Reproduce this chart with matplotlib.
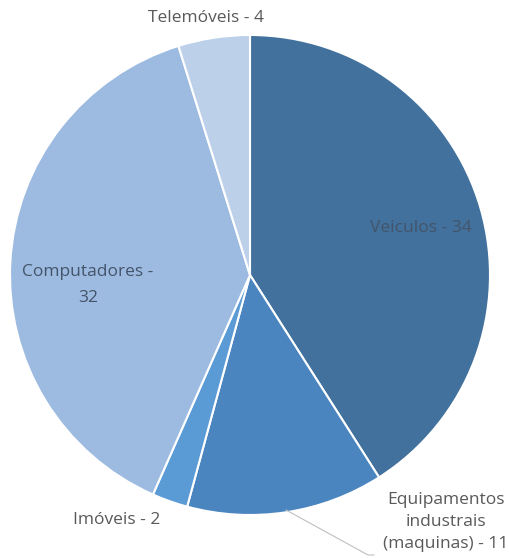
import matplotlib
matplotlib.use("Agg")
import matplotlib.pyplot as plt

labels = ["Veiculos", "Equipamentos\nindustrais\n(maquinas)", "Imóveis", "Computadores", "Telemóveis"]
values = [34, 11, 2, 32, 4]
colors = ["#41719c", "#4a85bf", "#5b9bd5", "#9dbbe1", "#bdd0ea"]

W, H = 510, 558
fig = plt.figure(figsize=(W / 100, H / 100), dpi=100)
ax = fig.add_axes([0, 0, 1, 1])

cx, cy, r = 250, H - 275, 240
ax.pie(values, colors=colors, startangle=90, counterclock=False,
       center=(cx, cy), radius=r, frame=True,
       wedgeprops=dict(edgecolor="white", linewidth=1.5))
ax.set_xlim(0, W)
ax.set_ylim(0, H)
ax.set_aspect("equal")
ax.axis("off")

font = "Open Sans"
fs = 12.5
inside = "#44546a"
outside = "#595959"

ax.text(421, H - 228, f"{labels[0]} - {values[0]}", ha="center", va="center",
        color=inside, fontsize=fs, family=font)
ax.text(88, H - 285, f"{labels[3]} -\n{values[3]}", ha="center", va="center",
        color=inside, fontsize=fs, family=font, linespacing=1.75)
ax.text(206, H - 18, f"{labels[4]} - {values[4]}", ha="center", va="center",
        color=outside, fontsize=fs, family=font)
ax.text(117, H - 520, f"{labels[2]} - {values[2]}", ha="center", va="center",
        color=outside, fontsize=fs, family=font)
ax.text(446, H - 522, f"{labels[1]} - {values[1]}", ha="center", va="center",
        color=outside, fontsize=fs, family=font, linespacing=1.5)

# leader line for the equipment label
ax.plot([286, 368, 374], [H - 510, H - 555, H - 555], color="#bfbfbf", lw=0.8)

fig.savefig("out.png", dpi=100)
